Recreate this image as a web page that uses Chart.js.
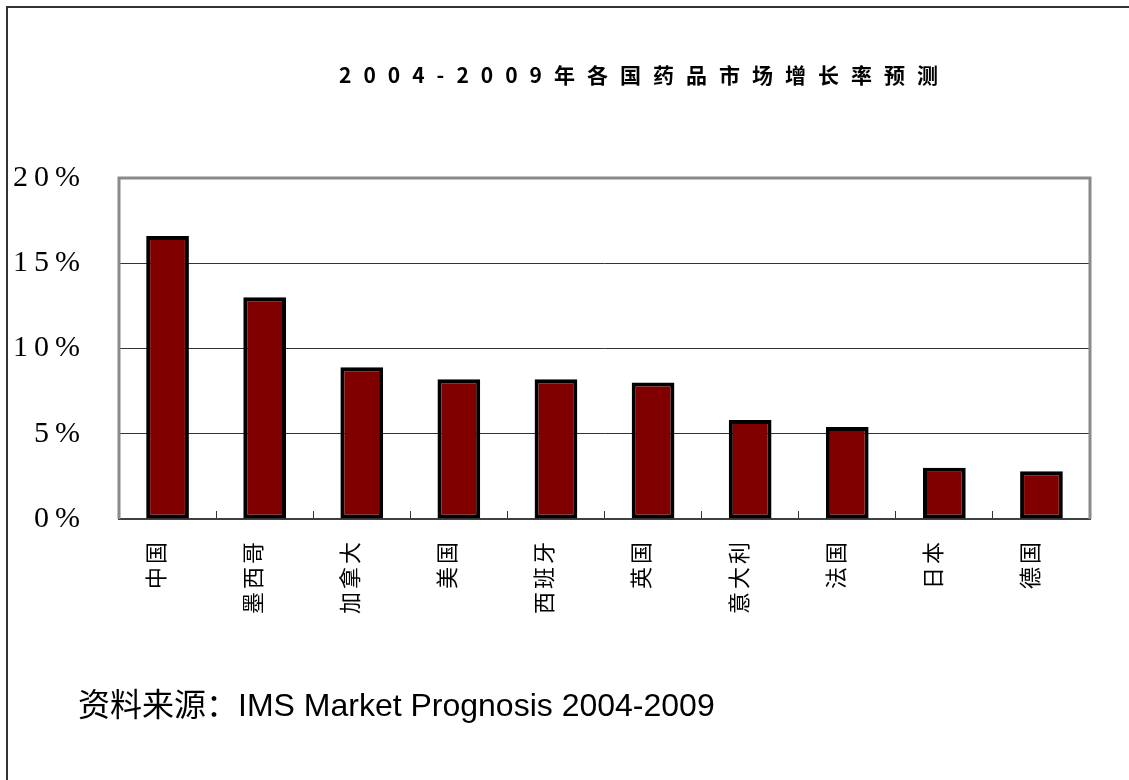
<!DOCTYPE html>
<html><head><meta charset="utf-8">
<script src="https://cdn.jsdelivr.net/npm/chart.js@4/dist/chart.umd.min.js"></script>
<style>html,body{margin:0;padding:0;background:#fff;}canvas{display:block;}</style>
</head><body>
<canvas id="c" width="1129" height="780"></canvas>
<script>
const TITLE = '2004-2009年各国药品市场增长率预测';
const SOURCE = '资料来源：IMS Market Prognosis 2004-2009';
const categories = ['中国','墨西哥','加拿大','美国','西班牙','英国','意大利','法国','日本','德国'];
const growthRates = [16.6, 13.0, 8.9, 8.2, 8.2, 8.0, 5.8, 5.4, 3.0, 2.8];
const yMin = 0, yMax = 20, yStep = 5;
const ySuffix = '%';

function withSpacing(obj, method, spacing) {
  if (!obj || obj['__sp_' + method]) return;
  const orig = obj[method];
  obj[method] = function(...args) {
    const ctx = this.ctx;
    ctx.save();
    ctx.letterSpacing = spacing + 'px';
    orig.apply(this, args);
    ctx.restore();
  };
  obj['__sp_' + method] = true;
}

const decor = {
  id: 'decor',
  beforeDraw(chart) {
    const {ctx, width, height} = chart;
    ctx.save();
    ctx.fillStyle = '#fff';
    ctx.fillRect(0, 0, width, height);
    ctx.strokeStyle = '#333';
    ctx.lineWidth = 2;
    ctx.beginPath();
    ctx.moveTo(7, height);
    ctx.lineTo(7, 7);
    ctx.lineTo(width, 7);
    ctx.stroke();
    ctx.restore();
    withSpacing(chart.scales.x, 'drawLabels', 3);
    withSpacing(chart.scales.y, 'drawLabels', 6);
  },
  beforeDatasetsDraw(chart) {
    const {ctx, chartArea: a} = chart;
    ctx.save();
    ctx.strokeStyle = '#8a8a8a';
    ctx.lineWidth = 3;
    ctx.beginPath();
    ctx.moveTo(a.left, a.bottom);
    ctx.lineTo(a.left, a.top);
    ctx.lineTo(a.right, a.top);
    ctx.lineTo(a.right, a.bottom);
    ctx.stroke();
    ctx.restore();
  },
  afterDraw(chart) {
    const {ctx, chartArea: a} = chart;
    ctx.save();
    ctx.fillStyle = '#000';
    ctx.font = 'bold 21px "Noto Sans CJK SC", sans-serif';
    ctx.letterSpacing = '12px';
    ctx.textAlign = 'center';
    ctx.textBaseline = 'middle';
    ctx.fillText(TITLE, (a.left + a.right) / 2 + 40, 75);
    ctx.letterSpacing = '0px';
    ctx.font = '32px "Liberation Sans", "Noto Sans CJK SC", sans-serif';
    ctx.textAlign = 'left';
    ctx.textBaseline = 'alphabetic';
    ctx.fillText(SOURCE, 78, 716);
    ctx.restore();
  }
};

new Chart(document.getElementById('c'), {
  type: 'bar',
  data: {
    labels: categories,
    datasets: [{
      data: growthRates,
      backgroundColor: '#800000',
      borderColor: '#000000',
      borderWidth: 4,
      borderSkipped: false,
      barPercentage: 0.44,
      categoryPercentage: 1.0
    }]
  },
  options: {
    responsive: false,
    animation: false,
    devicePixelRatio: 1,
    layout: { padding: { top: 178, right: 39, bottom: 141, left: 0 } },
    plugins: { legend: { display: false }, tooltip: { enabled: false }, title: { display: false } },
    scales: {
      x: {
        afterFit(s) { s.height = 120; },
        grid: { display: true, drawOnChartArea: false, drawTicks: true, tickLength: -8, color: '#333', lineWidth: 1, offset: true },
        border: { display: true, color: '#404040', width: 2 },
        ticks: {
          autoSkip: false, minRotation: 90, maxRotation: 90,
          padding: 28, labelOffset: -12,
          color: '#000',
          font: { family: '"Noto Sans CJK SC", sans-serif', size: 22 }
        }
      },
      y: {
        min: yMin, max: yMax,
        afterFit(s) { s.width = 119; },
        grid: { color: '#333', lineWidth: 1, drawTicks: false },
        border: { display: false },
        ticks: {
          stepSize: yStep, padding: 33, color: '#000',
          font: { family: '"Liberation Serif", serif', size: 30 },
          callback: (v) => v + ySuffix
        }
      }
    }
  },
  plugins: [decor]
});
</script>
</body></html>
